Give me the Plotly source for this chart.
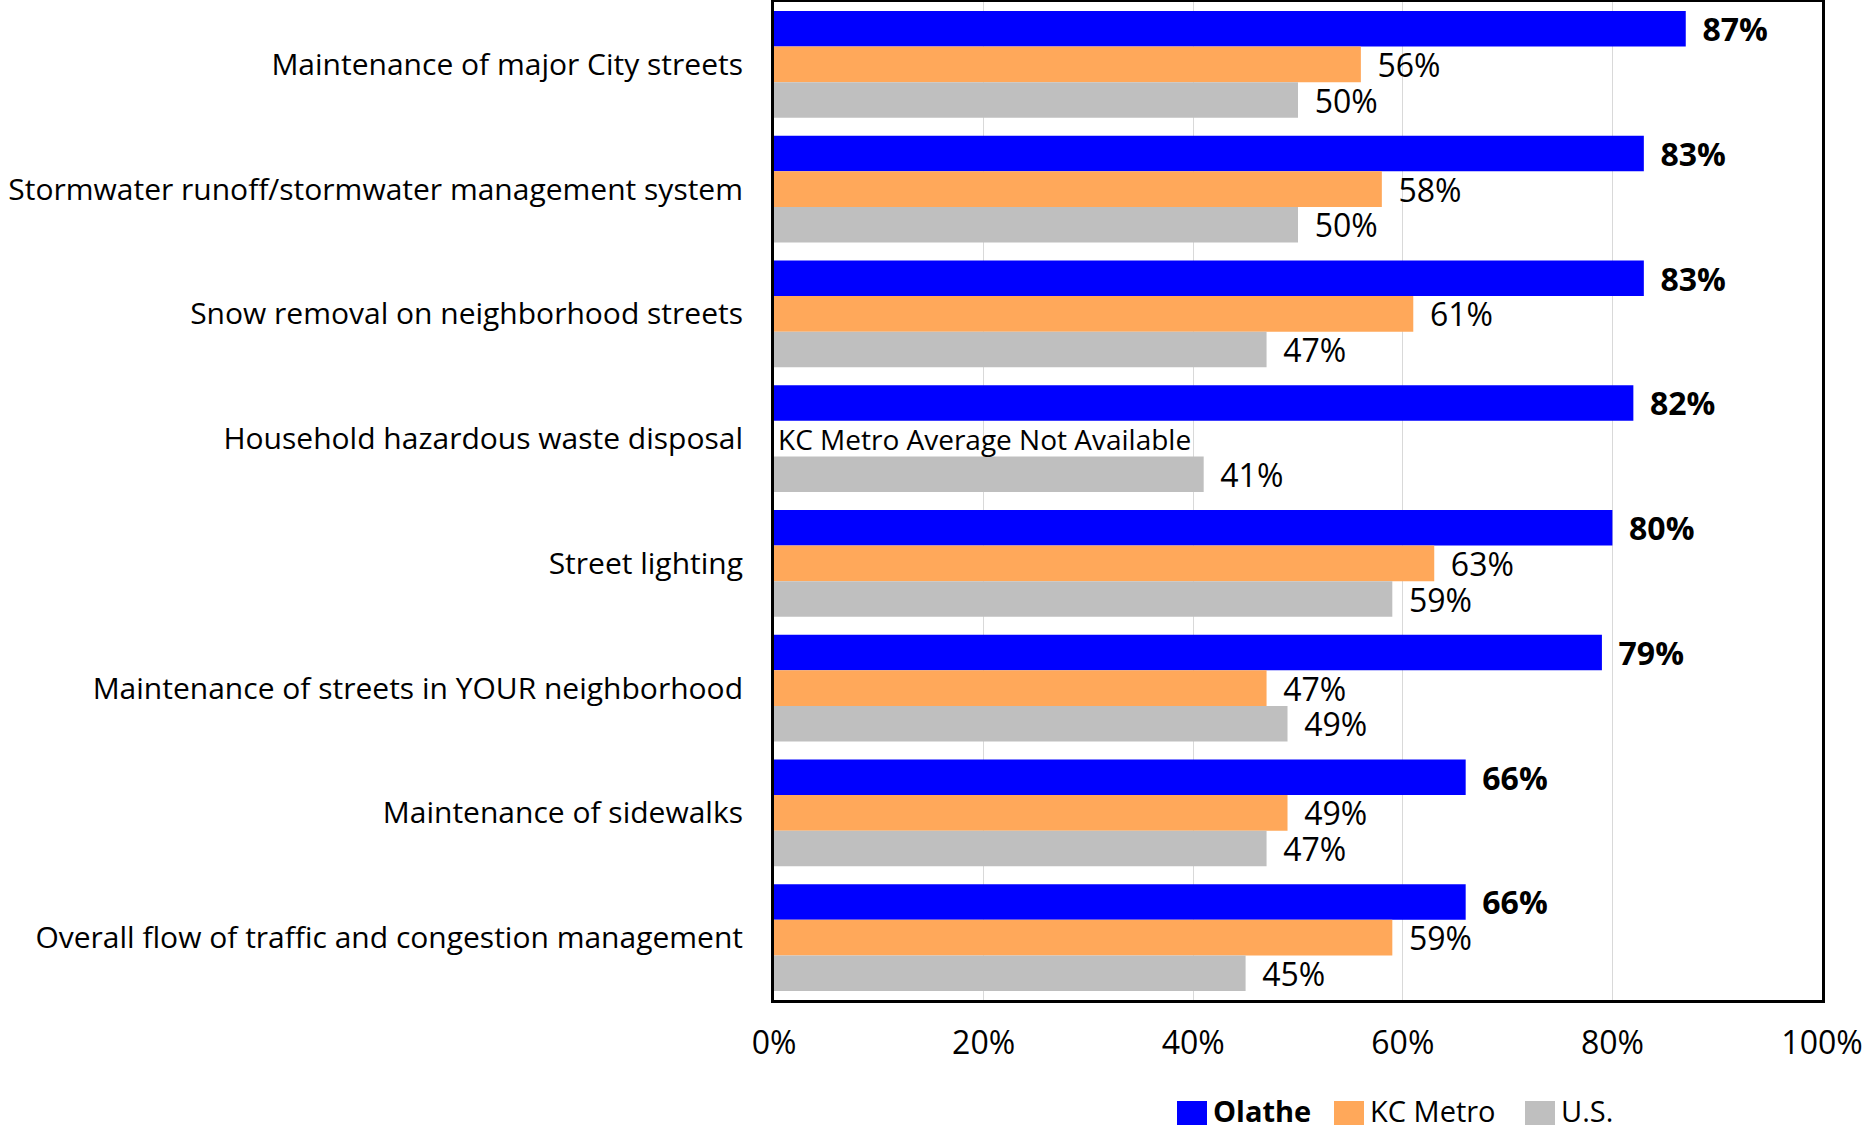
import plotly.graph_objects as go

categories = [
    "Maintenance of major City streets",
    "Stormwater runoff/stormwater management system",
    "Snow removal on neighborhood streets",
    "Household hazardous waste disposal",
    "Street lighting",
    "Maintenance of streets in YOUR neighborhood",
    "Maintenance of sidewalks",
    "Overall flow of traffic and congestion management",
]
series_names = ["Olathe", "KC Metro", "U.S."]
olathe = [0.87, 0.83, 0.83, 0.82, 0.80, 0.79, 0.66, 0.66]
kc_metro = [0.56, 0.58, 0.61, None, 0.63, 0.47, 0.49, 0.59]
us = [0.50, 0.50, 0.47, 0.41, 0.59, 0.49, 0.47, 0.45]
x_ticks = [0, 0.2, 0.4, 0.6, 0.8, 1.0]
x_tick_labels = ["0%", "20%", "40%", "60%", "80%", "100%"]
na_note = "KC Metro Average Not Available"

FONT = "Open Sans"
FS = 30
VFS = 32
PAD = "\u00a0\u2009"
colors = ["#0000FF", "#FFA85A", "#BFBFBF"]

W, H = 1864, 1131
ML, MR, MT, MB = 774, 42, 2, 131
PW, PH = W - ML - MR, H - MT - MB


def labels(vals, bold=False):
    out = []
    for v in vals:
        if v is None:
            out.append("")
        else:
            s = f"{round(v*100)}%"
            out.append(PAD + (f"<b>{s}</b>" if bold else s))
    return out


fig = go.Figure()
for name, vals, col, bold in zip(series_names, [olathe, kc_metro, us], colors, [True, False, False]):
    fig.add_trace(go.Bar(
        y=categories, x=vals, orientation="h", name=name,
        marker=dict(color=col, line=dict(width=0)),
        text=labels(vals, bold), textposition="outside", cliponaxis=False,
        constraintext="none",
        textfont=dict(family=FONT, size=VFS, color="black"),
        showlegend=False,
    ))

for cat, v in zip(categories, kc_metro):
    if v is None:
        fig.add_annotation(x=0, y=cat, xref="x", yref="y", text=na_note,
                           showarrow=False, xanchor="left", yanchor="middle",
                           xshift=2, font=dict(family=FONT, size=28, color="black"))

# manual legend (large square swatches), positioned in paper coordinates
def px_x(px):
    return (px - ML) / PW

def px_y(py):
    return (H - MB - py) / PH

legend_items = [(1177, series_names[0], True), (1334, series_names[1], False), (1525, series_names[2], False)]
for (x0, name, bold), col in zip(legend_items, colors):
    fig.add_shape(type="rect", xref="paper", yref="paper",
                  x0=px_x(x0), x1=px_x(x0 + 30), y0=px_y(1125), y1=px_y(1101),
                  fillcolor=col, line=dict(width=0))
    fig.add_annotation(xref="paper", yref="paper", x=px_x(x0 + 34), y=px_y(1110),
                       text=f"<b>{name}</b>" if bold else name, showarrow=False,
                       xanchor="left", yanchor="middle",
                       font=dict(family=FONT, size=29, color="black"))

fig.update_layout(
    width=W, height=H,
    margin=dict(l=ML, r=MR, t=MT, b=MB, autoexpand=False),
    barmode="group", bargap=0.143, bargroupgap=0,
    plot_bgcolor="white", paper_bgcolor="white",
    font=dict(family=FONT, size=FS, color="black"),
    showlegend=False,
)
fig.update_xaxes(
    range=[0, 1], tickvals=x_ticks, ticktext=x_tick_labels,
    showgrid=True, gridcolor="#D9D9D9", gridwidth=1,
    showline=True, linecolor="black", linewidth=3, mirror=True,
    zeroline=False, ticks="", ticklabelstandoff=13,
    tickfont=dict(family=FONT, size=32, color="black"),
)
fig.update_yaxes(
    categoryorder="array", categoryarray=categories, autorange="reversed",
    showline=True, linecolor="black", linewidth=3, mirror=True,
    showgrid=False, ticks="", ticklabelstandoff=22,
    tickfont=dict(family=FONT, size=FS, color="black"),
)

fig.write_html("out.html", config={"displayModeBar": False},
               post_script="document.body.style.margin='0';")
